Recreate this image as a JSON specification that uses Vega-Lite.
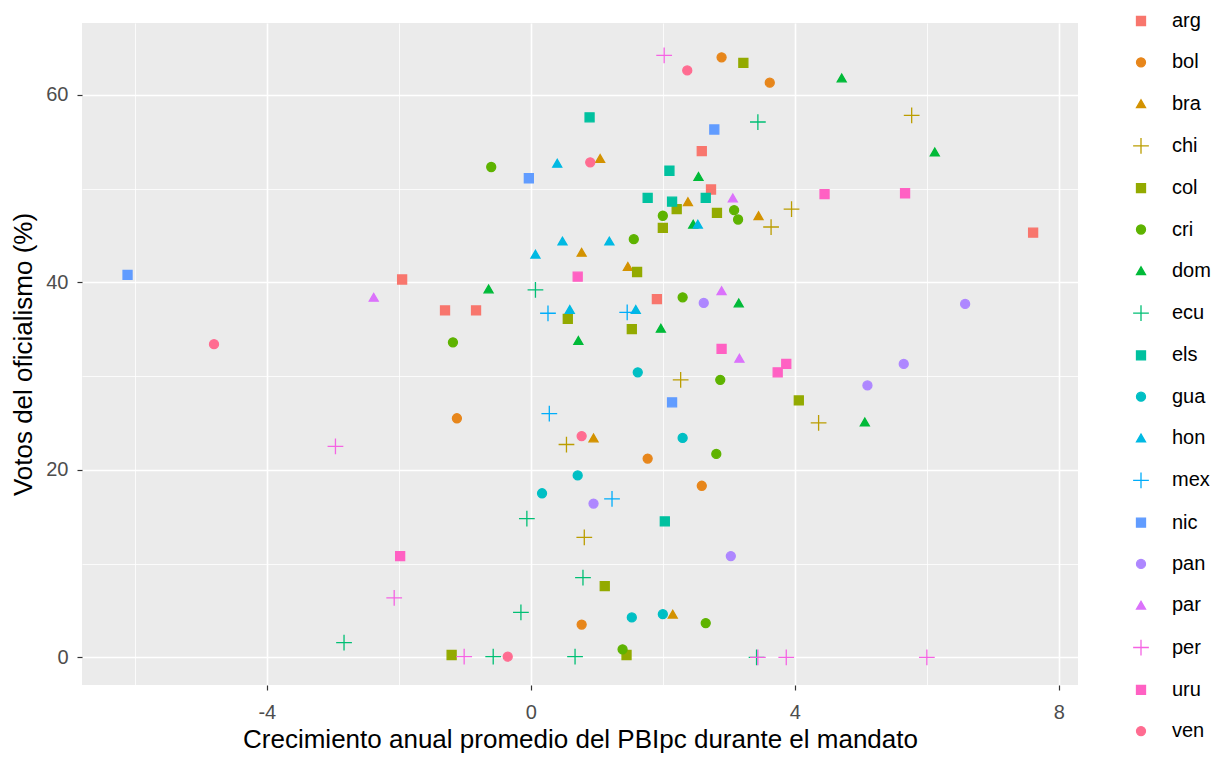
{
  "$schema": "https://vega.github.io/schema/vega-lite/v6.json",
  "width": 996,
  "height": 662,
  "autosize": {"type": "none"},
  "padding": {"left": 82, "top": 23, "right": 143, "bottom": 72},
  "background": "white",
  "config": {
    "font": "Liberation Sans",
    "view": {"fill": "#EBEBEB", "stroke": null},
    "axis": {
      "domain": false,
      "gridColor": "white",
      "tickColor": "#333333",
      "tickSize": 5,
      "tickWidth": 1.2,
      "labelColor": "#4D4D4D",
      "labelFontSize": 20,
      "labelFont": "Liberation Sans",
      "titleFont": "Liberation Sans",
      "titleFontSize": 26,
      "titleFontWeight": "normal",
      "titleColor": "black"
    }
  },
  "data": {
    "values": [
      {"pais": "arg", "x": -1.95, "y": 40.3},
      {"pais": "arg", "x": -1.30, "y": 37.0},
      {"pais": "arg", "x": -0.83, "y": 37.0},
      {"pais": "arg", "x": 1.91, "y": 38.2},
      {"pais": "arg", "x": 2.59, "y": 54.0},
      {"pais": "arg", "x": 2.73, "y": 49.9},
      {"pais": "arg", "x": 7.61, "y": 45.3},
      {"pais": "bol", "x": 2.89, "y": 64.0},
      {"pais": "bol", "x": 3.62, "y": 61.3},
      {"pais": "bol", "x": -1.12, "y": 25.5},
      {"pais": "bol", "x": 1.77, "y": 21.2},
      {"pais": "bol", "x": 2.59, "y": 18.3},
      {"pais": "bol", "x": 0.77, "y": 3.5},
      {"pais": "bra", "x": 1.05, "y": 53.2},
      {"pais": "bra", "x": 0.77, "y": 43.2},
      {"pais": "bra", "x": 1.47, "y": 41.7},
      {"pais": "bra", "x": 2.38, "y": 48.6},
      {"pais": "bra", "x": 3.45, "y": 47.1},
      {"pais": "bra", "x": 0.95, "y": 23.4},
      {"pais": "bra", "x": 2.15, "y": 4.6},
      {"pais": "chi", "x": 5.77, "y": 57.8},
      {"pais": "chi", "x": 3.95, "y": 47.8},
      {"pais": "chi", "x": 3.64, "y": 45.9},
      {"pais": "chi", "x": 2.27, "y": 29.6},
      {"pais": "chi", "x": 0.54, "y": 22.7},
      {"pais": "chi", "x": 0.81, "y": 12.8},
      {"pais": "chi", "x": 4.36, "y": 25.0},
      {"pais": "col", "x": 3.22, "y": 63.4},
      {"pais": "col", "x": 2.21, "y": 47.8},
      {"pais": "col", "x": 2.82, "y": 47.4},
      {"pais": "col", "x": 2.0, "y": 45.8},
      {"pais": "col", "x": 1.61, "y": 41.1},
      {"pais": "col", "x": 0.56, "y": 36.1},
      {"pais": "col", "x": 1.53, "y": 35.0},
      {"pais": "col", "x": 4.06, "y": 27.4},
      {"pais": "col", "x": 1.12, "y": 7.6},
      {"pais": "col", "x": -1.2, "y": 0.25},
      {"pais": "col", "x": 1.45, "y": 0.25},
      {"pais": "cri", "x": -0.6, "y": 52.3},
      {"pais": "cri", "x": 2.0, "y": 47.1},
      {"pais": "cri", "x": 3.08, "y": 47.7},
      {"pais": "cri", "x": 3.14, "y": 46.7},
      {"pais": "cri", "x": 1.56, "y": 44.6},
      {"pais": "cri", "x": 2.3, "y": 38.4},
      {"pais": "cri", "x": -1.18, "y": 33.6},
      {"pais": "cri", "x": 2.87, "y": 29.6},
      {"pais": "cri", "x": 2.81, "y": 21.7},
      {"pais": "cri", "x": 2.65, "y": 3.65},
      {"pais": "cri", "x": 1.39, "y": 0.85},
      {"pais": "dom", "x": 4.71, "y": 61.8},
      {"pais": "dom", "x": 6.12, "y": 53.9},
      {"pais": "dom", "x": 2.54, "y": 51.3},
      {"pais": "dom", "x": 2.46, "y": 46.2},
      {"pais": "dom", "x": -0.64, "y": 39.3},
      {"pais": "dom", "x": 3.15, "y": 37.8},
      {"pais": "dom", "x": 1.97, "y": 35.1},
      {"pais": "dom", "x": 0.72, "y": 33.8},
      {"pais": "dom", "x": 5.06, "y": 25.1},
      {"pais": "ecu", "x": 3.44, "y": 57.1},
      {"pais": "ecu", "x": 0.07, "y": 39.2},
      {"pais": "ecu", "x": -0.06, "y": 14.8},
      {"pais": "ecu", "x": 0.79, "y": 8.5},
      {"pais": "ecu", "x": -0.15, "y": 4.8},
      {"pais": "ecu", "x": -0.57, "y": 0.07},
      {"pais": "ecu", "x": 0.67, "y": 0.07},
      {"pais": "ecu", "x": -2.83, "y": 1.56},
      {"pais": "ecu", "x": 3.42, "y": 0.0},
      {"pais": "els", "x": 0.89, "y": 57.6},
      {"pais": "els", "x": 2.1, "y": 51.9},
      {"pais": "els", "x": 1.77, "y": 49.0},
      {"pais": "els", "x": 2.14, "y": 48.6},
      {"pais": "els", "x": 2.65, "y": 49.0},
      {"pais": "els", "x": 2.03, "y": 14.5},
      {"pais": "gua", "x": 1.62, "y": 30.4},
      {"pais": "gua", "x": 2.3, "y": 23.4},
      {"pais": "gua", "x": 0.71, "y": 19.4},
      {"pais": "gua", "x": 0.17, "y": 17.5},
      {"pais": "gua", "x": 1.53, "y": 4.26},
      {"pais": "gua", "x": 2.0, "y": 4.6},
      {"pais": "hon", "x": 0.4, "y": 52.7},
      {"pais": "hon", "x": 2.53, "y": 46.2},
      {"pais": "hon", "x": 0.48, "y": 44.4},
      {"pais": "hon", "x": 1.19, "y": 44.4},
      {"pais": "hon", "x": 0.07, "y": 43.0},
      {"pais": "hon", "x": 0.59, "y": 37.1},
      {"pais": "hon", "x": 1.59, "y": 37.1},
      {"pais": "mex", "x": 0.26, "y": 36.7},
      {"pais": "mex", "x": 1.46, "y": 36.8},
      {"pais": "mex", "x": 0.28, "y": 26.0},
      {"pais": "mex", "x": 1.23, "y": 16.9},
      {"pais": "nic", "x": -6.11, "y": 40.8},
      {"pais": "nic", "x": -0.03, "y": 51.1},
      {"pais": "nic", "x": 2.78, "y": 56.3},
      {"pais": "nic", "x": 2.14, "y": 27.2},
      {"pais": "pan", "x": 6.58, "y": 37.7},
      {"pais": "pan", "x": 2.62, "y": 37.8},
      {"pais": "pan", "x": 5.65, "y": 31.3},
      {"pais": "pan", "x": 5.1, "y": 29.0},
      {"pais": "pan", "x": 0.95, "y": 16.4},
      {"pais": "pan", "x": 3.03, "y": 10.8},
      {"pais": "par", "x": -2.38, "y": 38.4},
      {"pais": "par", "x": 3.06, "y": 49.0},
      {"pais": "par", "x": 2.89, "y": 39.1},
      {"pais": "par", "x": 3.16, "y": 31.9},
      {"pais": "per", "x": 2.02, "y": 64.2},
      {"pais": "per", "x": -2.96, "y": 22.5},
      {"pais": "per", "x": -2.07, "y": 6.35},
      {"pais": "per", "x": -1.01, "y": 0.07},
      {"pais": "per", "x": 3.44, "y": 0.0},
      {"pais": "per", "x": 3.87, "y": 0.0},
      {"pais": "per", "x": 6.0, "y": 0.0},
      {"pais": "uru", "x": 4.45, "y": 49.4},
      {"pais": "uru", "x": 5.67, "y": 49.5},
      {"pais": "uru", "x": 0.71, "y": 40.6},
      {"pais": "uru", "x": 2.89, "y": 32.9},
      {"pais": "uru", "x": 3.87, "y": 31.3},
      {"pais": "uru", "x": 3.74, "y": 30.4},
      {"pais": "uru", "x": -1.98, "y": 10.8},
      {"pais": "ven", "x": 2.37, "y": 62.6},
      {"pais": "ven", "x": 0.9, "y": 52.8},
      {"pais": "ven", "x": -4.8, "y": 33.4},
      {"pais": "ven", "x": 0.77, "y": 23.6},
      {"pais": "ven", "x": -0.35, "y": 0.07}
    ]
  },
  "mark": {"type": "point", "filled": false, "size": 81, "strokeWidth": 1.3, "opacity": 1},
  "encoding": {
    "x": {
      "field": "x", "type": "quantitative",
      "scale": {"domain": [-6.8, 8.29], "nice": false, "zero": false},
      "axis": {
        "title": "Crecimiento anual promedio del PBIpc durante el mandato",
        "values": [-6, -4, -2, 0, 2, 4, 6, 8],
        "labelExpr": "datum.value % 4 === 0 ? '' + datum.value : ''",
        "gridWidth": {"condition": {"test": "datum.value % 4 === 0", "value": 1.6}, "value": 0.8},
        "tickOpacity": {"condition": {"test": "datum.value % 4 === 0", "value": 1}, "value": 0},
        "labelPadding": 12,
        "titlePadding": 4
      }
    },
    "y": {
      "field": "y", "type": "quantitative",
      "scale": {"domain": [-2.95, 67.66], "nice": false, "zero": false},
      "axis": {
        "title": "Votos del oficialismo (%)",
        "values": [0, 10, 20, 30, 40, 50, 60],
        "labelExpr": "datum.value % 20 === 0 ? '' + datum.value : ''",
        "gridWidth": {"condition": {"test": "datum.value % 20 === 0", "value": 1.6}, "value": 0.8},
        "tickOpacity": {"condition": {"test": "datum.value % 20 === 0", "value": 1}, "value": 0},
        "labelPadding": 9,
        "titlePadding": 9
      }
    },
    "fill": {
      "field": "pais", "type": "nominal",
      "scale": {
        "domain": ["arg","bol","bra","chi","col","cri","dom","ecu","els","gua","hon","mex","nic","pan","par","per","uru","ven"],
        "range": ["#F8766D","#E7861B","#D39200","#BB9D00","#93AA00","#5EB300","#00BA38","#00BF74","#00C19F","#00BFC4","#00B9E3","#00ADFA","#619CFF","#AE87FF","#DB72FB","#F564E3","#FF61C3","#FF6C91"]
      },
      "legend": {"title": null, "orient": "none", "legendX": 1049, "legendY": -12, "labelFontSize": 20, "labelColor": "black", "labelOffset": 21, "rowPadding": 21.3, "symbolSize": 81, "symbolStrokeWidth": 1.3, "padding": 0}
    },
    "stroke": {
      "field": "pais", "type": "nominal",
      "scale": {
        "domain": ["arg","bol","bra","chi","col","cri","dom","ecu","els","gua","hon","mex","nic","pan","par","per","uru","ven"],
        "range": ["#F8766D","#E7861B","#D39200","#BB9D00","#93AA00","#5EB300","#00BA38","#00BF74","#00C19F","#00BFC4","#00B9E3","#00ADFA","#619CFF","#AE87FF","#DB72FB","#F564E3","#FF61C3","#FF6C91"]
      },
      "legend": {"title": null, "orient": "none", "legendX": 1049, "legendY": -12, "labelFontSize": 20, "labelColor": "black", "labelOffset": 21, "rowPadding": 21.3, "symbolSize": 81, "symbolStrokeWidth": 1.3, "padding": 0}
    },
    "shape": {
      "field": "pais", "type": "nominal",
      "scale": {
        "domain": ["arg","bol","bra","chi","col","cri","dom","ecu","els","gua","hon","mex","nic","pan","par","per","uru","ven"],
        "range": ["square","circle","triangle-up","M-1.75,0L1.75,0M0,-1.75L0,1.75","square","circle","triangle-up","M-1.75,0L1.75,0M0,-1.75L0,1.75","square","circle","triangle-up","M-1.75,0L1.75,0M0,-1.75L0,1.75","square","circle","triangle-up","M-1.75,0L1.75,0M0,-1.75L0,1.75","square","circle"]
      },
      "legend": {"title": null, "orient": "none", "legendX": 1049, "legendY": -12, "labelFontSize": 20, "labelColor": "black", "labelOffset": 21, "rowPadding": 21.3, "symbolSize": 81, "symbolStrokeWidth": 1.3, "padding": 0}
    }
  }
}
